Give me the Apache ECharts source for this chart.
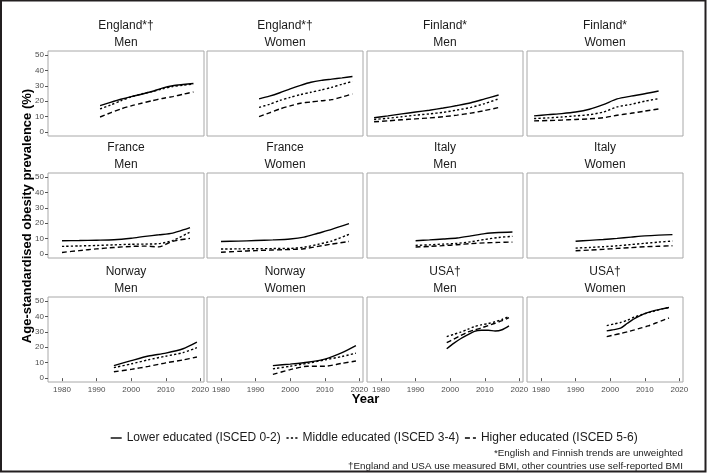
<!DOCTYPE html>
<html><head><meta charset="utf-8">
<script src="https://cdn.jsdelivr.net/npm/echarts@6/dist/echarts.min.js"></script>
<style>html,body{margin:0;padding:0;background:#fff}#c{width:709px;height:473px}</style>
</head><body><div id="c"></div>
<script>
// ---------- data ----------
const seriesNames = ['Lower educated (ISCED 0-2)', 'Middle educated (ISCED 3-4)', 'Higher educated (ISCED 5-6)'];
const yearTicks = [1980, 1990, 2000, 2010, 2020];
const valueTicks = [0, 10, 20, 30, 40, 50];
const panelCountries = ['England*†', 'England*†', 'Finland*', 'Finland*', 'France', 'France', 'Italy', 'Italy', 'Norway', 'Norway', 'USA†', 'USA†'];
const panelSexes = ['Men', 'Women', 'Men', 'Women', 'Men', 'Women', 'Men', 'Women', 'Men', 'Women', 'Men', 'Women'];

const yearsEngland = [1991, 1994, 1997, 2000, 2003, 2006, 2009, 2012, 2015, 2018];
const englandMenLower   = [17.2, 19.3, 21.3, 23.0, 24.5, 26.3, 28.5, 30.0, 30.8, 31.5];
const englandMenMiddle  = [15.0, 17.5, 20.3, 22.8, 24.7, 26.2, 28.0, 29.5, 30.4, 31.0];
const englandMenHigher  = [9.8, 12.5, 15.0, 17.0, 18.7, 20.3, 21.8, 23.0, 24.5, 26.0];
const englandWomenLower  = [21.5, 23.3, 25.5, 28.0, 30.3, 32.3, 33.5, 34.3, 35.1, 36.0];
const englandWomenMiddle = [16.0, 18.0, 20.5, 22.5, 24.3, 25.8, 27.3, 29.0, 31.0, 32.8];
const englandWomenHigher = [10.0, 12.5, 15.0, 17.0, 18.7, 19.5, 20.3, 21.0, 22.8, 24.7];

const yearsFinland = [1978, 1982, 1986, 1990, 1994, 1998, 2002, 2006, 2010, 2014];
const finlandMenLower   = [9.3, 10.5, 11.8, 13.0, 14.2, 15.6, 17.2, 19.0, 21.5, 24.0];
const finlandMenMiddle  = [8.2, 9.0, 10.0, 11.0, 11.8, 12.8, 14.3, 16.0, 18.5, 21.5];
const finlandMenHigher  = [6.7, 7.3, 8.0, 8.6, 9.2, 10.0, 11.0, 12.3, 14.0, 15.9];
const finlandWomenLower  = [10.5, 11.3, 12.0, 13.0, 14.8, 17.8, 21.5, 23.3, 24.8, 26.6];
const finlandWomenMiddle = [8.8, 9.2, 9.8, 10.5, 11.3, 13.0, 16.3, 18.0, 20.0, 21.7];
const finlandWomenHigher = [7.3, 7.5, 7.8, 8.2, 8.6, 9.3, 10.9, 12.2, 13.6, 15.0];

const yearsFrance = [1980, 1985, 1990, 1995, 2000, 2004, 2008, 2012, 2017];
const franceMenLower   = [8.7, 8.8, 9.0, 9.3, 10.3, 11.5, 12.5, 13.6, 17.2];
const franceMenMiddle  = [5.0, 5.3, 5.6, 6.0, 6.4, 6.5, 6.8, 8.8, 14.3];
const franceMenHigher  = [1.1, 2.3, 3.4, 4.3, 5.0, 5.2, 4.7, 8.3, 10.2];
const franceWomenLower  = [8.2, 8.4, 8.8, 9.2, 9.8, 11.0, 13.5, 16.0, 19.7];
const franceWomenMiddle = [3.3, 3.4, 3.5, 3.6, 3.7, 4.5, 6.3, 8.5, 12.8];
const franceWomenHigher = [1.2, 1.8, 2.3, 2.7, 3.0, 3.5, 5.0, 6.5, 8.2];

const yearsItaly = [1990, 1994, 1998, 2002, 2006, 2010, 2014, 2018];
const italyMenLower   = [8.7, 9.2, 9.8, 10.4, 11.8, 13.3, 14.0, 14.3];
const italyMenMiddle  = [5.7, 6.0, 6.5, 7.0, 8.0, 9.5, 10.8, 11.5];
const italyMenHigher  = [4.6, 5.0, 5.5, 6.1, 6.8, 7.3, 7.6, 7.8];
const italyWomenLower  = [8.3, 8.9, 9.5, 10.2, 11.0, 11.8, 12.3, 12.6];
const italyWomenMiddle = [3.9, 4.3, 4.8, 5.4, 6.2, 7.0, 7.8, 8.5];
const italyWomenHigher = [2.2, 2.6, 3.1, 3.7, 4.2, 4.8, 5.1, 5.4];

const yearsNorway = [1995, 2000, 2005, 2010, 2015, 2019];
const norwayMenLower   = [8.1, 11.3, 14.3, 16.2, 19.0, 23.3];
const norwayMenMiddle  = [6.8, 9.2, 11.9, 14.2, 16.5, 19.7];
const norwayMenHigher  = [4.1, 5.7, 7.6, 9.9, 11.8, 13.7];
const norwayWomenLower  = [8.1, 9.1, 10.3, 12.3, 16.5, 21.0];
const norwayWomenMiddle = [6.0, 7.7, 9.6, 11.8, 14.0, 16.2];
const norwayWomenHigher = [2.4, 5.5, 7.7, 7.7, 9.6, 11.1];

const yearsUSA = [1999, 2001, 2003, 2005, 2007, 2009, 2011, 2013, 2015, 2017];
const usaMenLower   = [19.0, 22.5, 25.5, 28.0, 30.3, 31.0, 31.0, 30.5, 31.3, 33.8];
const usaMenMiddle  = [26.9, 28.3, 29.8, 31.5, 33.3, 34.5, 35.3, 36.5, 38.0, 40.0];
const usaMenHigher  = [22.9, 25.2, 27.5, 29.8, 31.2, 32.5, 34.0, 35.5, 37.2, 39.1];
const usaWomenLower  = [30.6, 31.4, 32.3, 35.5, 38.5, 40.8, 42.5, 43.8, 44.8, 45.7];
const usaWomenMiddle = [34.0, 35.0, 36.0, 37.5, 39.5, 41.0, 42.3, 43.5, 44.8, 45.7];
const usaWomenHigher = [26.9, 27.9, 28.9, 30.0, 31.2, 32.5, 33.8, 35.5, 37.2, 38.9];

const panelData = [
  [yearsEngland, englandMenLower, englandMenMiddle, englandMenHigher],
  [yearsEngland, englandWomenLower, englandWomenMiddle, englandWomenHigher],
  [yearsFinland, finlandMenLower, finlandMenMiddle, finlandMenHigher],
  [yearsFinland, finlandWomenLower, finlandWomenMiddle, finlandWomenHigher],
  [yearsFrance, franceMenLower, franceMenMiddle, franceMenHigher],
  [yearsFrance, franceWomenLower, franceWomenMiddle, franceWomenHigher],
  [yearsItaly, italyMenLower, italyMenMiddle, italyMenHigher],
  [yearsItaly, italyWomenLower, italyWomenMiddle, italyWomenHigher],
  [yearsNorway, norwayMenLower, norwayMenMiddle, norwayMenHigher],
  [yearsNorway, norwayWomenLower, norwayWomenMiddle, norwayWomenHigher],
  [yearsUSA, usaMenLower, usaMenMiddle, usaMenHigher],
  [yearsUSA, usaWomenLower, usaWomenMiddle, usaWomenHigher]
];

// ---------- layout ----------
const FONT = 'Liberation Sans, Arial, sans-serif';
const colLefts = [48, 207, 367, 527];
const rowTops = [51, 173, 297];
const PW = 156, PH = 85;
const dashStyles = ['solid', [2.2, 2.2], [5, 3]];

const grids = [], xAxes = [], yAxes = [], series = [], graphics = [];
panelData.forEach((pd, i) => {
  const col = i % 4, row = Math.floor(i / 4);
  const left = colLefts[col], top = rowTops[row];
  grids.push({left: left, top: top, width: PW, height: PH, show: true, borderColor: '#a8a8a8', borderWidth: 1,
    backgroundColor: 'transparent', containLabel: false, outerBoundsMode: 'none'});
  const bottomRow = row === 2, leftCol = col === 0;
  xAxes.push({type: 'value', gridIndex: i, min: 1975.95, max: 2021.05, splitLine: {show: false},
    axisLine: {show: false},
    axisTick: {show: bottomRow, length: 3, customValues: yearTicks, lineStyle: {color: '#555', width: 1}},
    axisLabel: {show: bottomRow, customValues: yearTicks, margin: 4, fontSize: 8, color: '#4d4d4d', fontFamily: FONT,
      formatter: v => String(v)}});
  yAxes.push({type: 'value', gridIndex: i, min: -2.5, max: 52.5, splitLine: {show: false},
    axisLine: {show: false},
    axisTick: {show: leftCol, length: 3, customValues: valueTicks, lineStyle: {color: '#555', width: 1}},
    axisLabel: {show: leftCol, customValues: valueTicks, margin: 4, fontSize: 8, color: '#4d4d4d', fontFamily: FONT,
      formatter: v => String(v)}});
  const yrs = pd[0];
  for (let k = 2; k >= 0; k--) {
    const vals = pd[k + 1];
    series.push({type: 'line', name: seriesNames[k], xAxisIndex: i, yAxisIndex: i,
      data: yrs.map((y, j) => [y, vals[j]]), showSymbol: false, symbol: 'none', smooth: 0.25,
      lineStyle: {color: '#000', width: 1.4, type: dashStyles[k]}, itemStyle: {color: '#000'},
      emphasis: {disabled: true}, silent: true});
  }
  graphics.push({type: 'text', x: left + PW / 2, y: top - 17,
    style: {text: panelCountries[i] + '\n' + panelSexes[i], textAlign: 'center', textVerticalAlign: 'middle',
      font: '12px ' + FONT, lineHeight: 17, fill: '#1a1a1a'}});
});

graphics.push({type: 'text', x: 27, y: 216, rotation: Math.PI / 2,
  style: {text: 'Age-standardised obesity prevalence (%)', textAlign: 'center', textVerticalAlign: 'middle',
    font: 'bold 13px ' + FONT, fill: '#000'}});
graphics.push({type: 'text', x: 365.5, y: 399,
  style: {text: 'Year', textAlign: 'center', textVerticalAlign: 'middle', font: 'bold 13px ' + FONT, fill: '#000'}});
graphics.push({type: 'text', x: 683, y: 453,
  style: {text: '*English and Finnish trends are unweighted', textAlign: 'right', textVerticalAlign: 'middle',
    font: '9.8px ' + FONT, fill: '#1a1a1a'}});
graphics.push({type: 'text', x: 683, y: 466,
  style: {text: '†England and USA use measured BMI, other countries use self-reported BMI', textAlign: 'right', textVerticalAlign: 'middle',
    font: '9.8px ' + FONT, fill: '#1a1a1a'}});
graphics.push({type: 'rect', shape: {x: 1, y: 0.5, width: 704.5, height: 471}, silent: true,
  style: {fill: 'none', stroke: '#231f20', lineWidth: 2}});

const chart = echarts.init(document.getElementById('c'), null, {renderer: 'canvas'});
chart.setOption({
  animation: false,
  backgroundColor: '#fff',
  textStyle: {fontFamily: FONT},
  legend: {data: seriesNames, left: 105, top: 427, itemWidth: 11, itemHeight: 10, itemGap: 5,
    itemStyle: {opacity: 0, borderWidth: 0},
    lineStyle: {width: 1.4},
    textStyle: {fontSize: 12, color: '#1a1a1a', fontFamily: FONT}, selectedMode: false},
  grid: grids, xAxis: xAxes, yAxis: yAxes, series: series, graphic: graphics
});
</script></body></html>
